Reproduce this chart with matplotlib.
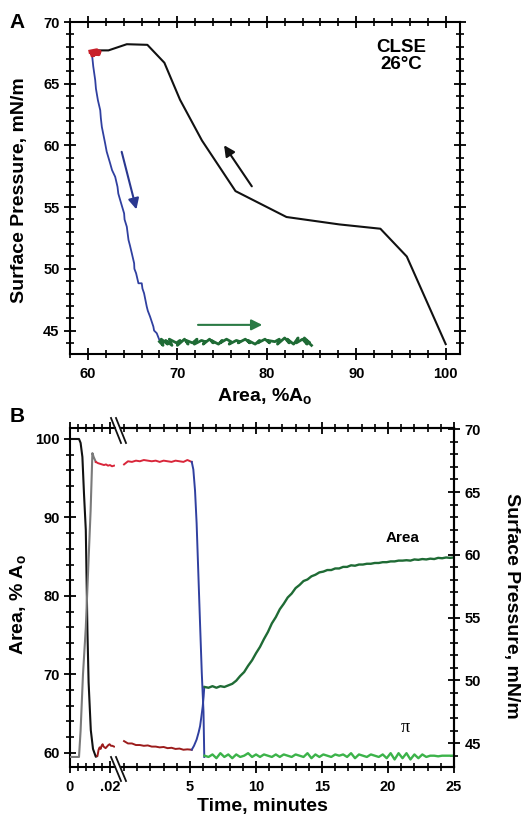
import matplotlib
matplotlib.use("Agg")
import matplotlib.pyplot as plt
from matplotlib.lines import Line2D
from matplotlib.ticker import MultipleLocator

plt.rcParams["font.family"] = ["Liberation Sans", "DejaVu Sans"]
plt.rcParams["font.weight"] = "bold"
plt.rcParams["mathtext.fontset"] = "custom"
plt.rcParams["mathtext.bf"] = "Liberation Sans:bold"
plt.rcParams["mathtext.rm"] = "Liberation Sans:bold"
for ax_name in ("xtick", "ytick"):
    plt.rcParams[f"{ax_name}.direction"] = "inout"
    plt.rcParams[f"{ax_name}.major.size"] = 9
    plt.rcParams[f"{ax_name}.minor.size"] = 6
    plt.rcParams[f"{ax_name}.major.width"] = 1.3
    plt.rcParams[f"{ax_name}.minor.width"] = 1.2
    plt.rcParams[f"{ax_name}.labelsize"] = 10.5

W, H = 521, 819

# ---- panel A: isotherm (area %A0 vs surface pressure mN/m) ----
comp_area = [100.0, 95.65, 92.7, 88.1, 82.2, 76.5, 72.75, 70.3, 68.55, 66.65, 64.35, 62.3, 61.0]
comp_pi = [43.9, 51.0, 53.25, 53.6, 54.2, 56.3, 60.4, 63.7, 66.7, 68.15, 68.2, 67.7, 67.7]

hold_area = [60.3, 61.0, 60.6, 61.3, 60.5, 60.9, 61.2, 60.4, 60.8]
hold_pi = [67.6, 67.7, 67.4, 67.6, 67.3, 67.5, 67.4, 67.5, 67.6]

exp_area = [60.45, 60.6, 60.82, 60.9, 61.12, 61.38, 61.45, 61.56, 61.93, 62.1,
            62.49, 62.7, 63.05, 63.31, 63.4, 63.61, 64.05, 64.1, 64.35, 64.54,
            64.7, 64.91, 65.17, 65.2, 65.39, 65.65, 66.02, 66.1, 66.28, 66.58,
            66.7, 66.95, 67.32, 67.4, 67.70, 67.99]
exp_pi = [67.44, 66.4, 65.28, 64.6, 63.66, 62.85, 62.2, 61.50, 60.16, 59.5,
          58.54, 58.0, 57.46, 56.65, 56.1, 55.57, 54.49, 54.0, 53.41, 52.34,
          51.9, 51.26, 50.45, 50.0, 49.64, 48.83, 48.83, 48.4, 48.02, 46.94,
          46.6, 46.13, 45.32, 45.0, 44.78, 44.24]

relax_area = [68.0, 68.4, 68.2, 68.9, 68.7, 69.4, 69.1, 69.9, 70.3, 70.0,
              70.8, 71.2, 71.0, 71.7, 72.2, 71.9, 72.7, 73.1, 72.9, 73.6,
              74.0, 73.8, 74.6, 75.0, 74.8, 75.5, 76.0, 75.8, 76.6, 77.0,
              76.8, 77.6, 78.1, 77.9, 78.7, 79.2, 79.0, 79.8, 80.3, 80.1,
              80.9, 81.4, 81.2, 82.0, 82.5, 82.3, 83.0, 83.5, 83.3, 84.0,
              84.5, 84.2, 84.8, 84.4, 85.0]
relax_pi = [44.1, 43.8, 44.3, 43.9, 44.2, 43.8, 44.3, 44.0, 44.2, 43.8,
            44.3, 43.9, 44.2, 44.0, 44.3, 43.9, 44.2, 44.1, 43.9, 44.3,
            44.0, 44.2, 43.9, 44.2, 44.0, 44.3, 44.1, 43.9, 44.2, 44.1,
            44.0, 44.3, 44.0, 44.2, 43.9, 44.2, 44.0, 44.3, 44.0, 44.2,
            44.1, 44.3, 43.9, 44.4, 44.0, 44.3, 43.9, 44.4, 44.0, 44.3,
            43.9, 44.4, 44.0, 44.2, 43.8]

# ---- panel B: time course, fast part (minutes, 0 - 0.0225) ----
fast_t_area = [0.0, 0.0045, 0.0053, 0.0062, 0.007, 0.0079, 0.0087, 0.0093, 0.0104, 0.0115, 0.0129, 0.0135]
fast_area = [100.0, 100.0, 99.5, 97.7, 93.0, 88.4, 75.7, 69.0, 62.9, 60.5, 59.5, 59.6]
fast_t_pi = [0.0, 0.0045, 0.0053, 0.0065, 0.0079, 0.009, 0.0103, 0.0112, 0.0118, 0.0129]
fast_pi = [43.9, 43.9, 46.0, 50.5, 54.2, 58.5, 63.5, 68.1, 67.8, 67.4]
fhold_t_pi = [0.0129, 0.014, 0.015, 0.016, 0.017, 0.018, 0.019, 0.020, 0.021, 0.022]
fhold_pi = [67.4, 67.3, 67.25, 67.2, 67.15, 67.2, 67.1, 67.15, 67.05, 67.1]
fhold_t_area = [0.0135, 0.0138, 0.0143, 0.0148, 0.0153, 0.0158, 0.0163, 0.0168, 0.0173,
                0.0178, 0.0185, 0.0192, 0.0198, 0.0205, 0.0212, 0.022]
fhold_area = [59.6, 59.7, 60.4, 60.7, 60.5, 60.9, 61.1, 60.8, 60.7,
              60.6, 60.8, 61.0, 61.1, 60.9, 60.9, 60.8]

# ---- panel B: slow part (minutes) ----
hold_t = [0.0, 0.3, 0.6, 0.9, 1.2, 1.5, 1.8, 2.1, 2.4, 2.7, 3.0, 3.3, 3.6, 3.9, 4.2, 4.5, 4.8, 5.13]
hold_pi_t = [67.2, 67.45, 67.4, 67.5, 67.45, 67.55, 67.5, 67.45, 67.5, 67.4, 67.5, 67.45,
             67.4, 67.5, 67.45, 67.4, 67.55, 67.4]
hold_area_t = [61.5, 61.2, 61.2, 61.0, 61.0, 60.9, 60.95, 60.8, 60.8, 60.7, 60.75, 60.6,
               60.65, 60.5, 60.55, 60.4, 60.45, 60.4]

drop_t = [5.13, 5.25, 5.38, 5.5, 5.63, 5.76, 5.89, 6.02, 6.08]
drop_pi = [67.4, 66.8, 65.1, 62.5, 58.5, 54.5, 50.6, 47.5, 43.9]
jump_t = [5.13, 5.3, 5.5, 5.65, 5.76, 5.86, 5.96, 6.03, 6.08]
jump_area = [60.4, 60.9, 61.7, 62.6, 63.4, 64.6, 65.9, 67.2, 68.4]

relax_t = [6.1, 6.4, 6.7, 7.0, 7.3, 7.6, 7.9, 8.2, 8.5, 8.8, 9.1, 9.4, 9.7, 10.0, 10.3, 10.6,
           10.9, 11.2, 11.5, 11.8, 12.1, 12.4, 12.7, 13.0, 13.3, 13.6, 13.9, 14.2, 14.5, 14.8,
           15.1, 15.4, 15.7, 16.0, 16.3, 16.6, 16.9, 17.2, 17.5, 17.8, 18.1, 18.4, 18.7, 19.0,
           19.3, 19.6, 19.9, 20.2, 20.5, 20.8, 21.1, 21.4, 21.7, 22.0, 22.3, 22.6, 22.9, 23.2,
           23.5, 23.8, 24.1, 24.4, 24.7, 25.0]
relax_area_t = [68.4, 68.3, 68.5, 68.3, 68.5, 68.4, 68.6, 68.8, 69.2, 69.8,
                70.3, 71.1, 71.8, 72.7, 73.5, 74.5, 75.4, 76.5, 77.3, 78.3,
                79.0, 79.8, 80.3, 81.0, 81.4, 81.9, 82.1, 82.5, 82.7, 83.0,
                83.1, 83.3, 83.3, 83.5, 83.5, 83.7, 83.7, 83.9, 83.85, 84.0,
                84.0, 84.1, 84.1, 84.2, 84.2, 84.3, 84.3, 84.4, 84.4, 84.5,
                84.5, 84.55, 84.5, 84.65, 84.6, 84.7, 84.65, 84.75, 84.7, 84.85,
                84.8, 84.9, 84.85, 84.9]
relax_pi_t = [44.0, 43.9, 44.1, 43.8, 44.2, 43.9, 44.1, 43.8, 44.1, 43.9,
              44.0, 44.2, 43.9, 44.1, 43.9, 44.1, 44.0, 43.9, 44.1, 43.9,
              44.1, 44.0, 43.9, 44.1, 44.0, 43.9, 44.2, 43.8, 44.1, 43.9,
              44.1, 44.0, 43.9, 44.1, 44.0, 44.1, 43.9, 44.2, 43.8, 44.1,
              44.0, 43.9, 44.1, 44.0, 43.9, 44.1, 43.8, 44.2, 43.7, 44.2,
              43.8, 44.2, 43.7, 44.1, 43.8, 44.1, 43.9, 44.0, 44.0, 43.95,
              44.0, 44.0, 44.0, 44.0]

BLACK = "#111111"
GRAY = "#7a7a7a"
RED = "#d9263a"
DARKRED = "#9c1c1c"
BLUE = "#3040a0"
DKGREEN = "#1f6b35"
GREEN = "#3cb34a"


def rect(left, top, right, bottom):
    return [left / W, 1 - bottom / H, (right - left) / W, (bottom - top) / H]


fig = plt.figure(figsize=(W / 100, H / 100), dpi=100)

# ================= Panel A =================
axA = fig.add_axes(rect(70, 22, 460, 354))
axA.plot(comp_area, comp_pi, color=BLACK, lw=1.5)
axA.plot(exp_area, exp_pi, color=BLUE, lw=1.3)
axA.plot(relax_area, relax_pi, color=DKGREEN, lw=2.0)
axA.plot(hold_area, hold_pi, color="#c8202a", lw=3.0)
axA.set_xlim(58.0, 101.6)
axA.set_ylim(43.1, 70.0)
axA.xaxis.set_major_locator(MultipleLocator(10))
axA.xaxis.set_minor_locator(MultipleLocator(2))
axA.yaxis.set_major_locator(MultipleLocator(5))
axA.yaxis.set_minor_locator(MultipleLocator(1))
axA.tick_params(which="both", top=True, right=True)
axA.tick_params(axis="x", which="major", pad=5)
axA.tick_params(axis="y", which="major", pad=3)
for s in axA.spines.values():
    s.set_linewidth(1.5)

axA.annotate("", xy=(65.5, 54.6), xytext=(63.7, 59.7),
             arrowprops=dict(arrowstyle="-|>", color="#2a3890", lw=1.5, mutation_scale=16))
axA.annotate("", xy=(79.8, 45.46), xytext=(72.0, 45.46),
             arrowprops=dict(arrowstyle="-|>", color="#2a7a45", lw=1.5, mutation_scale=16))
axA.annotate("", xy=(75.05, 60.2), xytext=(78.5, 56.5),
             arrowprops=dict(arrowstyle="-|>", color=BLACK, lw=1.5, mutation_scale=16))
axA.text(95.0, 67.25, "CLSE\n26°C", ha="center", va="center", fontsize=13.5,
         fontweight="bold", linespacing=1.05)

fig.text(17 / W, 1 - 22 / H, "A", fontsize=15, fontweight="bold", ha="center", va="center")
fig.text(20 / W, 1 - 190 / H, "Surface Pressure, mN/m", rotation=90, fontsize=14,
         fontweight="bold", ha="center", va="center")
fig.text(265 / W, 1 - 397 / H, r"Area, %A$_\mathbf{o}$", fontsize=14,
         fontweight="bold", ha="center", va="center")

# ================= Panel B =================
A_LIM = (58.2, 101.4)
P_LIM = (43.1, 70.1)

# fast (left) segment
axL = fig.add_axes(rect(70, 428, 115, 767))
axL.plot(fast_t_area, fast_area, color=BLACK, lw=1.5)
axL.plot(fhold_t_area, fhold_area, color=DARKRED, lw=1.4)
axL.set_xlim(0, 0.0225)
axL.set_ylim(*A_LIM)
axL2 = axL.twinx()
axL2.plot(fast_t_pi, fast_pi, color=GRAY, lw=1.5)
axL2.plot(fhold_t_pi, fhold_pi, color=RED, lw=1.4)
axL2.set_ylim(*P_LIM)
axL2.axis("off")

axL.set_xticks([0, 0.02], ["0", ".02"])
axL.xaxis.set_minor_locator(MultipleLocator(0.004))
axL.yaxis.set_major_locator(MultipleLocator(10))
axL.yaxis.set_minor_locator(MultipleLocator(2))
axL.tick_params(which="both", top=True, right=False, left=True)
axL.tick_params(axis="x", which="major", pad=5)
axL.tick_params(axis="y", which="major", pad=3)
axL.spines["right"].set_visible(False)
for s in axL.spines.values():
    s.set_linewidth(1.5)

# slow (right) segment
axR = fig.add_axes(rect(121, 428, 454, 767))
axR.plot(hold_t, hold_area_t, color=DARKRED, lw=1.4)
axR.plot(jump_t, jump_area, color=BLUE, lw=1.4)
axR.plot(relax_t, relax_area_t, color=DKGREEN, lw=1.7)
axR.set_xlim(-0.23, 25)
axR.set_ylim(*A_LIM)
axR2 = axR.twinx()
axR2.plot(hold_t, hold_pi_t, color=RED, lw=1.4)
axR2.plot(drop_t, drop_pi, color=BLUE, lw=1.4)
axR2.plot(relax_t, relax_pi_t, color=GREEN, lw=1.7)
axR2.set_ylim(*P_LIM)

axR.set_xticks([5, 10, 15, 20, 25])
axR.xaxis.set_minor_locator(MultipleLocator(1))
axR.tick_params(axis="x", which="both", top=True, bottom=True)
axR.tick_params(axis="x", which="major", pad=5)
axR.tick_params(axis="y", which="both", left=False, right=False, labelleft=False, labelright=False)
axR.spines["left"].set_visible(False)
for s in axR.spines.values():
    s.set_linewidth(1.5)

axR2.yaxis.set_major_locator(MultipleLocator(5))
axR2.yaxis.set_minor_locator(MultipleLocator(1))
axR2.tick_params(axis="y", which="both", right=True, left=False)
axR2.tick_params(axis="y", which="major", pad=3)
axR2.spines["left"].set_visible(False)
for s in axR2.spines.values():
    s.set_linewidth(1.5)

# axis break marks
for y0, y1 in [(418, 443), (757, 781)]:
    for dx in (0, 5):
        fig.add_artist(Line2D([(111 + dx) / W, (121 + dx) / W], [1 - y0 / H, 1 - y1 / H],
                              color=BLACK, lw=1.3))

fig.text(403 / W, 1 - 538 / H, "Area", fontsize=11, fontweight="bold", ha="center", va="center")
fig.text(405 / W, 1 - 728 / H, "π", fontsize=13, fontweight="normal", ha="center", va="center",
         family=["Liberation Serif", "DejaVu Serif"])

fig.text(17 / W, 1 - 416 / H, "B", fontsize=15, fontweight="bold", ha="center", va="center")
fig.text(19 / W, 1 - 605 / H, r"Area, % A$_\mathbf{o}$", rotation=90, fontsize=14,
         fontweight="bold", ha="center", va="center")
fig.text(511 / W, 1 - 606 / H, "Surface Pressure, mN/m", rotation=-90, fontsize=14,
         fontweight="bold", ha="center", va="center")
fig.text(262 / W, 1 - 806 / H, "Time, minutes", fontsize=14, fontweight="bold",
         ha="center", va="center")

fig.savefig("out.png", dpi=100)
